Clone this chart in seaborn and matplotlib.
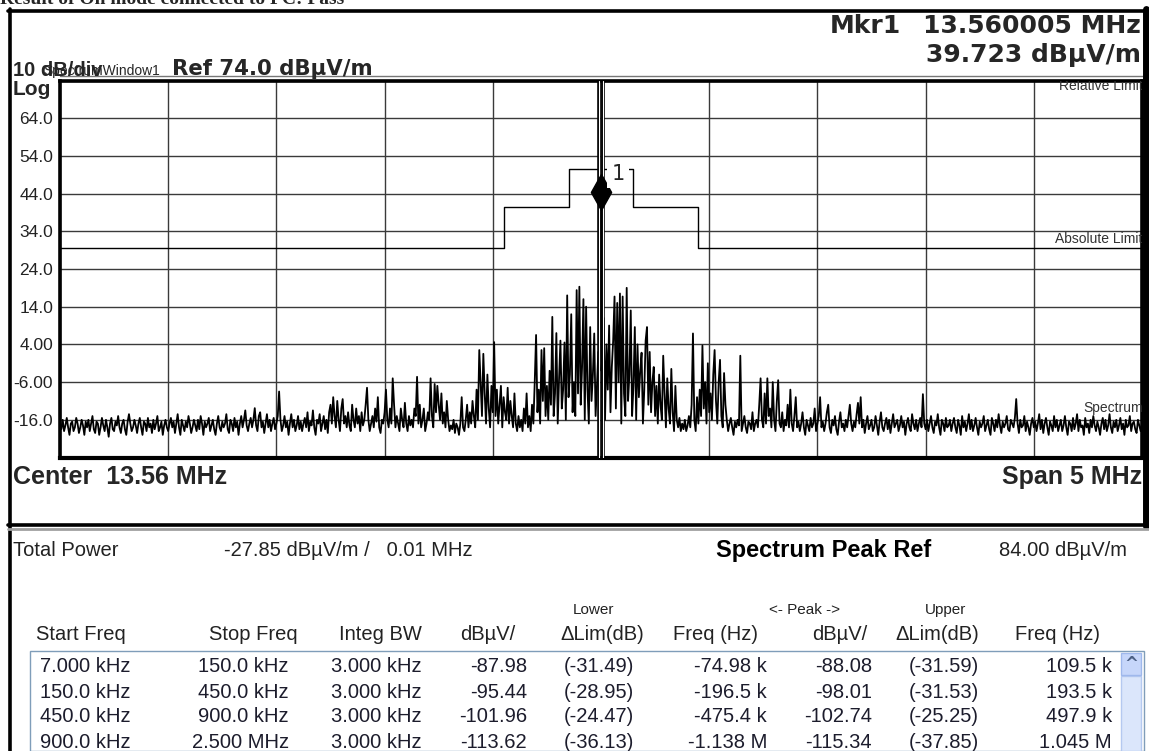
import numpy as np
import matplotlib
matplotlib.use("Agg")
import matplotlib.pyplot as plt
from matplotlib.lines import Line2D
from matplotlib.patches import Rectangle
import seaborn as sns

# analyzer settings
center_mhz = 13.56
span_mhz = 5.0
ref_level = 74.0
db_per_div = 10.0

# measured trace (dBuV/m), 801 points evenly spaced over the span
trace_db = [
    -17, -18.5, -16, -19, -17.5, -15.5, -18, -20, -17, -16.5, -19, -18, -15.5, -17, -19.5, -18, -16, -17.5, -20, -16.5,
    -18, -16, -19, -17, -15, -18.5, -19.5, -16.5, -17, -20, -18, -15.5, -17.5, -19, -16, -18, -20.5, -17, -15.5, -18.5,
    -19, -16.5, -17.5, -15, -18, -19.5, -17, -16, -18.5, -20, -16.5, -14.5, -17, -19, -18, -16, -17.5, -19.5, -17, -15.5,
    -18, -20, -16.5, -17, -19, -15.5, -18, -17, -19.5, -16, -18.5, -17, -15, -19, -18, -16.5, -20, -17.5, -16, -18,
    -19, -17, -15.5, -18, -16.5, -19.5, -17, -14.5, -18, -20, -16, -17.5, -19, -16.5, -18, -15, -17, -19.5, -18, -16,
    -17.5, -19, -16, -18.5, -15, -17, -20, -16.5, -18, -17, -15.5, -19, -17.5, -16, -18.5, -20, -17, -15, -18, -19,
    -16.5, -18, -17, -14.5, -18.5, -19.5, -16, -17, -19, -15.5, -18, -16.5, -20, -17, -15, -18, -16, -13.5, -17.5, -19,
    -17, -15.5, -18, -16, -12.9, -17.5, -19, -15, -14, -18, -16.5, -19.5, -17, -14.5, -18, -16, -19, -17, -15.5, -18.5,
    -17, -15, -8.5, -16, -19, -17.5, -15, -18, -16.5, -20, -17, -14.5, -18, -16, -19, -17.5, -15, -18.5, -16.5, -19,
    -17, -15.5, -18, -14, -19, -16.5, -17.5, -13.5, -18, -20, -16, -17, -14.5, -19, -17, -15, -18.5, -16, -19.5, -14,
    -12, -17, -10, -15, -18, -11, -16, -19, -13, -10.5, -17, -15, -18, -14, -17.5, -19, -12, -16, -18, -13,
    -17, -15, -19, -14, -17.5, -16, -12, -7.5, -16, -19, -17, -15, -18, -13, -16.5, -10, -18, -19.5, -16, -17,
    -14, -8, -16, -18, -13, -17, -5, -12, -18, -15, -17, -19, -13, -16, -18, -11.5, -17, -19, -15, -17.5,
    -16, -18, -13, -15, -4.6, -17, -12, -18, -16, -13, -19, -17, -14, -16, -5, -15, -18, -6.5, -14, -7,
    -12, -16, -9, -17, -14, -18, -11, -16, -19, -17.5, -18.5, -16, -19.5, -17, -18, -20, -17, -10, -18, -19,
    -16, -12, -18, -14, -17, -11, -15, -18, -8, -16, 2.5, -6, -15, 1.5, -9, -17, -4, -13, -18, -7,
    -14, 4.6, -15, -8, -17, -12, -7, -18, -10, -14, -16, -7.5, -17, -11, -15, -18, -9, -17, -19, -15,
    -18, -16, -19, -13, -17, -9, -18, -15, -19, -12, -17, -6, 6.5, -14, -8, -17, 2.5, -11, 3, -15,
    -7, -16, -3, -12, 11.3, -15, -9, 7, -17, -5, 5, -13, -8, 4.5, -16, 17, -10, -4, 12, -14,
    -6, -15, 18.4, -9, 19.3, -12, -2, 16, -16, 14, -8, -17, 8.6, -11, -4, 6.9, -15, -7, 2, -3,
    39.7, -10, 11, -16, 4, -8, 9, -14, -2, 5, 16.7, -13, 15, -6, 17.5, -17, 16.7, -9, -15, 19,
    -11, -4, 13, -15, -7, 8.6, -16, 4, -10, -3, 1.8, -17, -8, 5, 8.6, -12, 2, -14, -6, -2,
    -15, -7, -17, -4, -12, -16, 1, -9, -18, -5, -13, -17, -2.5, -14, -19, -7, -16, -18, -15.5, -19,
    -17, -18.5, -16, -19, -17.5, -15, -18, -12, 6.9, -16, -19, -10, -17, -8, -15, 3.7, -13, -6, -17, -1,
    -14, -9, -16, -4, 2.5, -11, -17, -6, -0.1, -15, -18, -3.6, -12, -16, -19, -17, -15.5, -18, -20, -16.5,
    -18, -16, -17.5, 1, -19, -17, -15, -18, -19.5, -16.5, -17, -18.5, -14, -19, -17, -16, -18, -12, -5, -16,
    -18, -9, -17, -5, -15, -13, -18, -6, -16, -19, -11, -5.5, -17, -18, -14, -19, -16, -17.5, -12, -18,
    -8, -17, -19, -15, -10, -18, -16.5, -19, -17, -14, -18, -20, -16, -17.5, -19, -15.5, -18, -17, -13, -19,
    -17, -15, -10, -18, -16.5, -19, -17, -14, -12, -18, -19.5, -16, -17.5, -15, -18.5, -20, -16.5, -14, -18, -17,
    -19, -16, -18, -15, -12, -17, -19, -16.5, -18, -14.5, -11.5, -17, -10, -18, -16, -19.5, -17, -15, -18.5, -17.5,
    -16, -19, -18, -15, -17.5, -20, -16.5, -14, -18, -19, -17, -15.5, -18.5, -16, -19.5, -17, -14.5, -18, -17, -16,
    -19, -17.5, -15, -18, -16.5, -20, -17, -15.5, -18, -19, -14.5, -17, -18.5, -16, -19, -17, -15.5, -18, -9.2, -17,
    -18.5, -16, -19, -17, -15, -18, -19.5, -16.5, -17.5, -14.5, -18, -20, -16, -17, -19, -15.5, -18, -17.5, -16, -19,
    -17, -15.5, -18, -19.5, -16, -17.5, -20, -15, -18, -16.5, -19, -17, -14.5, -18.5, -16, -19, -17.5, -15.5, -18, -20,
    -16.5, -18, -17, -15, -19, -17.5, -16, -18.5, -20, -15.5, -17, -19, -16, -18, -14.5, -17.5, -19.5, -16.5, -18, -17,
    -15, -18.5, -19, -16, -17, -18, -15.5, -10.5, -17, -19.5, -16, -18, -17.5, -15, -19, -16.5, -18, -20, -17, -15.5,
    -18, -16.5, -19, -17, -14.5, -18.5, -16, -19.5, -17, -15.5, -18, -20, -16.5, -17.5, -19, -15, -18, -16, -19, -17.5,
    -16, -19, -17.5, -15, -18, -20, -16.5, -17, -19, -15.5, -18.5, -17, -14.5, -19, -16, -18, -17.5, -20, -15.5, -18,
    -17, -19.5, -16, -18, -15, -17.5, -19, -16.5, -18, -20, -17, -15.5, -18.5, -16, -19, -17.5, -14.5, -18, -19.5, -16.5,
    -18, -16, -19, -17.5, -15.5, -18.5, -17, -20, -16, -18, -17.5, -15, -19, -17, -16.5, -18.5, -19.5, -16, -17.5, -19,
    -17,
]

# limit mask (MHz, dBuV/m)
mask_freq = [11.06, 13.110, 13.110, 13.410, 13.410, 13.553, 13.553,
             13.567, 13.567, 13.710, 13.710, 14.010, 14.010, 16.06]
mask_db = [29.5, 29.5, 40.5, 40.5, 50.5, 50.5, 84.0,
           84.0, 50.5, 50.5, 40.5, 40.5, 29.5, 29.5]
band_edges = [13.553, 13.567]

mkr_freq = 13.560005
mkr_db = 39.723

# result table
start_freq = ["7.000 kHz", "150.0 kHz", "450.0 kHz", "900.0 kHz"]
stop_freq = ["150.0 kHz", "450.0 kHz", "900.0 kHz", "2.500 MHz"]
integ_bw = ["3.000 kHz", "3.000 kHz", "3.000 kHz", "3.000 kHz"]
band_db = ["-87.98", "-95.44", "-101.96", "-113.62"]
lower_dlim = ["(-31.49)", "(-28.95)", "(-24.47)", "(-36.13)"]
lower_freq = ["-74.98 k", "-196.5 k", "-475.4 k", "-1.138 M"]
peak_db = ["-88.08", "-98.01", "-102.74", "-115.34"]
upper_dlim = ["(-31.59)", "(-31.53)", "(-25.25)", "(-37.85)"]
upper_freq = ["109.5 k", "193.5 k", "497.9 k", "1.045 M"]

W, H = 1149, 751

sns.set_theme(style="white")
plt.rcParams['font.family'] = ['DejaVu Sans']

fig = plt.figure(figsize=(W / 100, H / 100), dpi=100)
fig.patch.set_facecolor('white')


def fx(x):
    return x / W


def fy(y):
    return 1 - y / H


def hline(y, x0, x1, **kw):
    fig.add_artist(Line2D([fx(x0), fx(x1)], [fy(y), fy(y)], transform=fig.transFigure, **kw))


def vline(x, y0, y1, **kw):
    fig.add_artist(Line2D([fx(x), fx(x)], [fy(y0), fy(y1)], transform=fig.transFigure, **kw))


def ftext(x, y, s, **kw):
    fig.text(fx(x), fy(y), s, **kw)


# plot area
ax = fig.add_axes([fx(60), fy(457.5), (1142 - 60) / W, (457.5 - 80.5) / H])
f_lo = center_mhz - span_mhz / 2
f_hi = center_mhz + span_mhz / 2
bottom = ref_level - 10 * db_per_div
ax.set_xlim(f_lo, f_hi)
ax.set_ylim(bottom, ref_level)
ax.set_xticks(np.linspace(f_lo, f_hi, 11))
yt = np.arange(bottom, ref_level + 1, db_per_div)
ax.set_yticks(yt)
ylabels = []
for v in yt:
    if v in (bottom, ref_level):
        ylabels.append("")
    elif abs(v) < 10:
        ylabels.append(f"{v:.2f}")
    else:
        ylabels.append(f"{v:.1f}")
ax.set_yticklabels(ylabels, fontsize=12.5, color='#222222', family='Liberation Sans')
ax.set_xticklabels([])
ax.tick_params(length=0, pad=5)
ax.grid(True, color='#3a3a3a', lw=1.0)
for side, w in [('left', 2.6), ('bottom', 3.0), ('top', 2.6), ('right', 2.6)]:
    ax.spines[side].set_visible(True)
    ax.spines[side].set_color('black')
    ax.spines[side].set_linewidth(w)

freq = np.linspace(f_lo, f_hi, len(trace_db))
sns.lineplot(x=freq, y=trace_db, ax=ax, color='black', lw=1.3, estimator=None, zorder=3)

ax.plot(mask_freq, mask_db, color='black', lw=1.0, zorder=2)
for f in band_edges:
    ax.axvline(f, color='black', lw=2.6, zorder=4)
    ax.axvline(f, color='white', lw=0.8, zorder=4)

# marker diamond sitting on the peak
px_per_db = ax.bbox.height / (ref_level - bottom)
ms = 26
half_db = ms * 100 / 72 / 2 / px_per_db
diamond = [(0, 1), (0.56, 0), (0, -1), (-0.56, 0), (0, 1)]
ax.plot([mkr_freq], [mkr_db + half_db], marker=diamond, ms=ms, color='black',
        ls='none', zorder=6)
ax.annotate("1", (mkr_freq, mkr_db), xytext=(17, 36), textcoords='offset pixels',
            fontsize=15, ha='center', va='center', zorder=7,
            bbox=dict(boxstyle='square,pad=0.2', fc='white', ec='none'))

small = dict(fontsize=10, color='#333333', family='Liberation Sans', clip_on=True, zorder=5)
ax.text(0.923, 0.985, "Relative Limit", transform=ax.transAxes, va='center', **small)
ax.text(0.9196, 0.579, "Absolute Limit", transform=ax.transAxes, va='center', **small)
ax.text(0.946, 0.130, "Spectrum", transform=ax.transAxes, va='center', **small)

# header
ftext(0, 4, "Result of On mode connected to PC: Pass", family='Liberation Serif',
      fontweight='bold', fontsize=14, va='baseline')
ftext(830, 33, "Mkr1", fontsize=18, fontweight='bold', va='baseline')
ftext(1141, 33, f"{mkr_freq:.6f} MHz", fontsize=18, fontweight='bold', va='baseline', ha='right')
ftext(1141, 62, f"{mkr_db:.3f} dBµV/m", fontsize=18, fontweight='bold', va='baseline', ha='right')
ftext(160, 75, "SpectrumWindow1", fontsize=10, family='Liberation Sans', va='baseline', ha='right')
ftext(13, 76, f"{db_per_div:.0f} dB/div", fontsize=14.5, fontweight='bold',
      family='Liberation Sans', va='baseline')
ftext(172, 75, f"Ref {ref_level:.1f} dBµV/m", fontsize=15.3, fontweight='bold', va='baseline')
ftext(13, 95, "Log", fontsize=15, fontweight='bold', family='Liberation Sans', va='baseline')
ftext(13, 484, f"Center  {center_mhz:.2f} MHz", fontsize=18, fontweight='bold',
      family='Liberation Sans', va='baseline')
ftext(1142, 484, f"Span {span_mhz:.0f} MHz", fontsize=18, fontweight='bold',
      family='Liberation Sans', va='baseline', ha='right')
hline(76, 60, 1143, color='#777777', lw=1)

# window frame
hline(11, 8, 1149, color='black', lw=2.6)
vline(9.5, 9, 751, color='black', lw=2.6)
vline(1145.5, 9, 526, color='black', lw=5)
hline(524.5, 8, 1147, color='black', lw=2.6)
hline(528.5, 8, 1149, color='#a0a0a0', lw=2)

# table area
tcol = '#222222'
tf = dict(family='Liberation Sans', color=tcol, va='center')
ftext(13, 550, "Total Power", fontsize=14.5, **tf)
ftext(224, 550, "-27.85 dBµV/m /   0.01 MHz", fontsize=14.5, **tf)
ftext(716, 550, "Spectrum Peak Ref", fontsize=17, fontweight='bold', family='Liberation Sans',
      color='black', va='center')
ftext(999, 550, "84.00 dBµV/m", fontsize=14.5, **tf)

ftext(594, 610, "Lower", fontsize=11, ha='center', **tf)
ftext(804, 610, "<- Peak ->", fontsize=11, ha='center', **tf)
ftext(946, 610, "Upper", fontsize=11, ha='center', **tf)

headers = [("Start Freq", 36, 'left'), ("Stop Freq", 298, 'right'), ("Integ BW", 422, 'right'),
           ("dBµV/", 515, 'right'), ("ΔLim(dB)", 602, 'center'), ("Freq (Hz)", 758, 'right'),
           ("dBµV/", 867, 'right'), ("ΔLim(dB)", 937, 'center'), ("Freq (Hz)", 1100, 'right')]
for s, x, ha in headers:
    ftext(x, 634, s, fontsize=14.5, ha=ha, **tf)

fig.add_artist(Rectangle((fx(30), fy(751)), fx(1144) - fx(30), fy(651) - fy(751),
                         transform=fig.transFigure, fc='white', ec='#7f9db9', lw=1))
fig.add_artist(Rectangle((fx(1121), fy(751)), fx(1141) - fx(1121), fy(676) - fy(751),
                         transform=fig.transFigure, fc='#dbe6fb', ec='#b5c9f0', lw=1))
fig.add_artist(Rectangle((fx(1121), fy(675)), fx(1141) - fx(1121), fy(653) - fy(675),
                         transform=fig.transFigure, fc='#c6d6fa', ec='#9fb8ec', lw=1))
ftext(1131, 664, "^", fontsize=12, ha='center', va='center', color='#4d6185', fontweight='bold')

columns = [(start_freq, 40, 'left'), (stop_freq, 289, 'right'), (integ_bw, 422, 'right'),
           (band_db, 527, 'right'), (lower_dlim, 634, 'right'), (lower_freq, 767, 'right'),
           (peak_db, 872, 'right'), (upper_dlim, 979, 'right'), (upper_freq, 1112, 'right')]
row_y = [666, 692, 717, 742]
for vals, x, ha in columns:
    for v, y in zip(vals, row_y):
        ftext(x, y, v, fontsize=14.5, ha=ha, family='Liberation Sans', color='#1c1c2c', va='center')

fig.savefig("out.png", dpi=100)
